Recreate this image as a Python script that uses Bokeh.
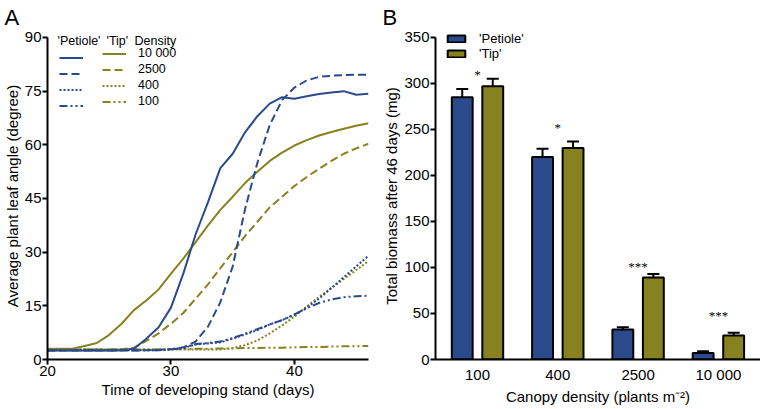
from bokeh.plotting import figure
from bokeh.layouts import row
from bokeh.models import (Range1d, FixedTicker, Legend, LegendItem, Label,
                          Whisker, ColumnDataSource, TeeHead)
from bokeh.embed import file_html
from bokeh.resources import INLINE

# ---------------- data: panel A ----------------
days = [20, 21, 22, 23, 24, 25, 26, 27, 28, 29, 30, 31, 32, 33, 34, 35, 36, 37, 38, 39, 40, 41, 42, 43, 44, 45, 46]
petiole_10000 = [2.5, 2.5, 2.5, 2.5, 2.5, 2.5, 2.6, 3.0, 5.8, 9.0, 14.5, 24, 35, 44, 53.5, 57.5, 63.5, 68, 71.5, 73.3, 72.9, 73.6, 74.2, 74.6, 75.0, 74.0, 74.3]
petiole_2500 = [2.5, 2.5, 2.5, 2.5, 2.5, 2.5, 2.5, 2.5, 2.6, 2.7, 2.9, 3.4, 5.0, 9.2, 16, 26, 42, 55, 65.5, 72.5, 76, 78, 79, 79.3, 79.5, 79.6, 79.6]
petiole_400 = [2.6, 2.6, 2.6, 2.6, 2.6, 2.6, 2.6, 2.6, 2.6, 2.6, 2.8, 3.2, 4.2, 4.5, 4.8, 5.8, 7.0, 8.2, 9.8, 11, 12.5, 14.5, 17, 20, 23, 26, 29]
petiole_100 = [2.6, 2.6, 2.6, 2.6, 2.6, 2.6, 2.6, 2.6, 2.6, 2.6, 2.8, 3.3, 4.3, 4.6, 5.0, 6.0, 7.2, 8.5, 9.8, 11, 12.6, 14.3, 15.8, 16.8, 17.4, 17.7, 17.8]
tip_10000 = [3.0, 3.0, 3.0, 3.8, 4.6, 6.9, 10, 13.8, 16.5, 19.6, 24, 28.2, 32.8, 37.5, 41.8, 45.5, 49.3, 52.5, 55.5, 57.8, 59.8, 61.3, 62.6, 63.6, 64.5, 65.3, 66]
tip_2500 = [2.8, 2.8, 2.8, 2.8, 2.8, 2.8, 2.9, 3.3, 5.2, 7.3, 10, 13, 17, 21, 25.5, 30, 34.5, 38.5, 42.5, 45.5, 48.5, 51, 53.3, 55.5, 57.5, 59, 60.3]
tip_400 = [2.8, 2.8, 2.8, 2.8, 2.8, 2.8, 2.8, 2.8, 2.8, 2.8, 2.8, 2.8, 2.8, 2.8, 2.8, 3.2, 4.0, 5.3, 7.3, 9.5, 12, 14.8, 17.5, 20, 22.5, 25, 27.5]
tip_100 = [2.8, 2.8, 2.8, 2.8, 2.8, 2.8, 2.8, 2.8, 2.8, 2.8, 2.9, 2.9, 3.0, 3.0, 3.1, 3.1, 3.2, 3.2, 3.3, 3.3, 3.4, 3.5, 3.5, 3.6, 3.7, 3.7, 3.8]
density_labels = ["10 000", "2500", "400", "100"]
x_ticks_a = [20, 30, 40]
y_ticks_a = [0, 15, 30, 45, 60, 75, 90]

# ---------------- data: panel B ----------------
categories = ["100", "400", "2500", "10 000"]
petiole_mean = [285, 220, 32.5, 7]
petiole_err = [9, 9, 2.5, 2]
tip_mean = [297, 230, 89, 26]
tip_err = [8, 7, 4, 3]
star_labels = ["*", "*", "***", "***"]
star_y = [310, 252, 101, 48]
y_ticks_b = [0, 50, 100, 150, 200, 250, 300, 350]

BLUE = "#2B4A8C"
OLIVE = "#86821F"
FONT = "Liberation Sans"


def style_axes(p, tick_size="15px", label_size="15px"):
    for ax in (p.xaxis[0], p.yaxis[0]):
        ax.axis_line_width = 2
        ax.axis_line_color = "black"
        ax.major_tick_line_width = 2
        ax.major_tick_in = 0
        ax.major_tick_out = 5
        ax.minor_tick_line_color = None
        ax.major_label_text_font = FONT
        ax.major_label_text_font_size = tick_size
        ax.major_label_text_color = "black"
        ax.axis_label_text_font = FONT
        ax.axis_label_text_font_size = label_size
        ax.axis_label_text_font_style = "normal"
        ax.axis_label_text_color = "black"
        ax.major_label_standoff = 1
        ax.axis_label_standoff = 2
    p.yaxis[0].axis_label_standoff = 1
    p.xgrid.visible = False
    p.ygrid.visible = False
    p.outline_line_color = None


def style_title(p, txt, offset):
    p.title.text = txt
    p.title.text_font = FONT
    p.title.text_font_size = "22px"
    p.title.text_font_style = "normal"
    p.title.text_color = "black"
    p.title.align = "left"
    p.title.offset = offset
    p.title.standoff = 5


FIG_H = 407
F = 30            # frame top (page px)
AX_BOTTOM = 359   # x-axis (page px)
H = AX_BOTTOM - F
BOTTOM = FIG_H - F - H
PX_A = 324 / 90.0
PX_B = 324 / 350.0


def vy_for(top_page, height):
    return H - (top_page - F) - height


# ================= Panel A =================
pA = figure(width=380, height=FIG_H, x_range=Range1d(20, 46), y_range=Range1d(0, H / PX_A),
            output_backend="svg", toolbar_location=None,
            min_border_left=45, min_border_right=12, min_border_top=F, min_border_bottom=BOTTOM)
pA.xaxis.ticker = FixedTicker(ticks=x_ticks_a)
pA.yaxis.ticker = FixedTicker(ticks=y_ticks_a)
pA.yaxis.bounds = (y_ticks_a[0], y_ticks_a[-1])
pA.xaxis.axis_label = "Time of developing stand (days)"
pA.yaxis.axis_label = "Average plant leaf angle (degree)"
style_axes(pA)
style_title(pA, "A", -43)

series_pet = [petiole_10000, petiole_2500, petiole_400, petiole_100]
series_tip = [tip_10000, tip_2500, tip_400, tip_100]
dashes = ["solid", "8 4", "2 2", "8 3 2 3 2 3"]

tip_r = []
pet_r = []
for vals, d in zip(series_tip, dashes):
    tip_r.append(pA.line(days, vals, line_color=OLIVE, line_width=2, line_dash=d))
for vals, d in zip(series_pet, dashes):
    pet_r.append(pA.line(days, vals, line_color=BLUE, line_width=2, line_dash=d))


def mk_legend(items, vx, vy, gw, gh, lh, standoff, size, spacing=1):
    lg = Legend(items=items, location=(vx, vy), orientation="vertical",
                padding=0, margin=0, spacing=spacing, border_line_color=None,
                background_fill_alpha=0, glyph_width=gw, glyph_height=gh,
                label_height=lh, label_standoff=standoff,
                label_text_font=FONT, label_text_font_size=size,
                label_text_color="black")
    return lg


legA_tip = mk_legend([LegendItem(label=l, renderers=[r]) for l, r in zip(density_labels, tip_r)],
                     55, vy_for(45.5, 63), 24, 15, 15, 12, "12.5px")
legA_pet = mk_legend([LegendItem(label=" ", renderers=[r]) for r in pet_r],
                     12, vy_for(49.5, 63), 24, 15, 15, 2, "12.5px")
pA.add_layout(legA_tip, "center")
pA.add_layout(legA_pet, "center")

for txt, x in [("'Petiole'", 10), ("'Tip'", 59), ("Density", 87)]:
    pA.add_layout(Label(x=x, y=H - (40 - F), x_units="screen", y_units="screen", text=txt,
                        text_font=FONT, text_font_size="12.5px", text_baseline="middle",
                        text_color="black"))

# ================= Panel B =================
unit = 80.3
frame_w_b = 380 - 55
start = -42 / unit
end = start + frame_w_b / unit
pB = figure(width=380, height=FIG_H, x_range=Range1d(start, end), y_range=Range1d(0, H / PX_B),
            output_backend="svg", toolbar_location=None,
            min_border_left=55, min_border_right=0, min_border_top=F, min_border_bottom=BOTTOM)
idx = list(range(len(categories)))
pB.xaxis.ticker = FixedTicker(ticks=idx)
pB.xaxis.major_label_overrides = {i: c for i, c in zip(idx, categories)}
pB.yaxis.ticker = FixedTicker(ticks=y_ticks_b)
pB.yaxis.bounds = (y_ticks_b[0], y_ticks_b[-1])
pB.xaxis.axis_label = "Canopy density (plants m\u207b\u00b2)"
pB.yaxis.axis_label = "Total biomass after 46 days (mg)"
style_axes(pB)
style_title(pB, "B", -53)
pB.xaxis.major_tick_out = 0
pB.xaxis.major_label_standoff = 6

off = 0.19
bw = 0.26
src_p = ColumnDataSource(dict(x=[i - off for i in idx], top=petiole_mean,
                              up=[m + e for m, e in zip(petiole_mean, petiole_err)]))
src_t = ColumnDataSource(dict(x=[i + off for i in idx], top=tip_mean,
                              up=[m + e for m, e in zip(tip_mean, tip_err)]))

for src in (src_p, src_t):
    pB.add_layout(Whisker(source=src, base="x", upper="up", lower="top",
                          line_width=2, line_color="black",
                          upper_head=TeeHead(size=12, line_width=2, line_color="black"),
                          lower_head=None, level="underlay"))

bar_p = pB.vbar(x="x", top="top", width=bw, source=src_p, fill_color=BLUE,
                line_color="black", line_width=2)
bar_t = pB.vbar(x="x", top="top", width=bw, source=src_t, fill_color=OLIVE,
                line_color="black", line_width=2)

pB.text(x=idx, y=star_y, text=star_labels, text_align="center", text_baseline="alphabetic",
        text_font_size="13px", text_color="black", text_font=FONT)

legB1 = mk_legend([LegendItem(label="'Petiole'", renderers=[bar_p])], 10, vy_for(32, 14), 22, 9, 14, 12, "13px", 0)
legB2 = mk_legend([LegendItem(label="'Tip'", renderers=[bar_t])], 10, vy_for(46.5, 14), 22, 9, 14, 12, "13px", 0)
pB.add_layout(legB1, "center")
pB.add_layout(legB2, "center")

layout = row(pA, pB)
with open("out.html", "w") as f:
    f.write(file_html(layout, INLINE))
